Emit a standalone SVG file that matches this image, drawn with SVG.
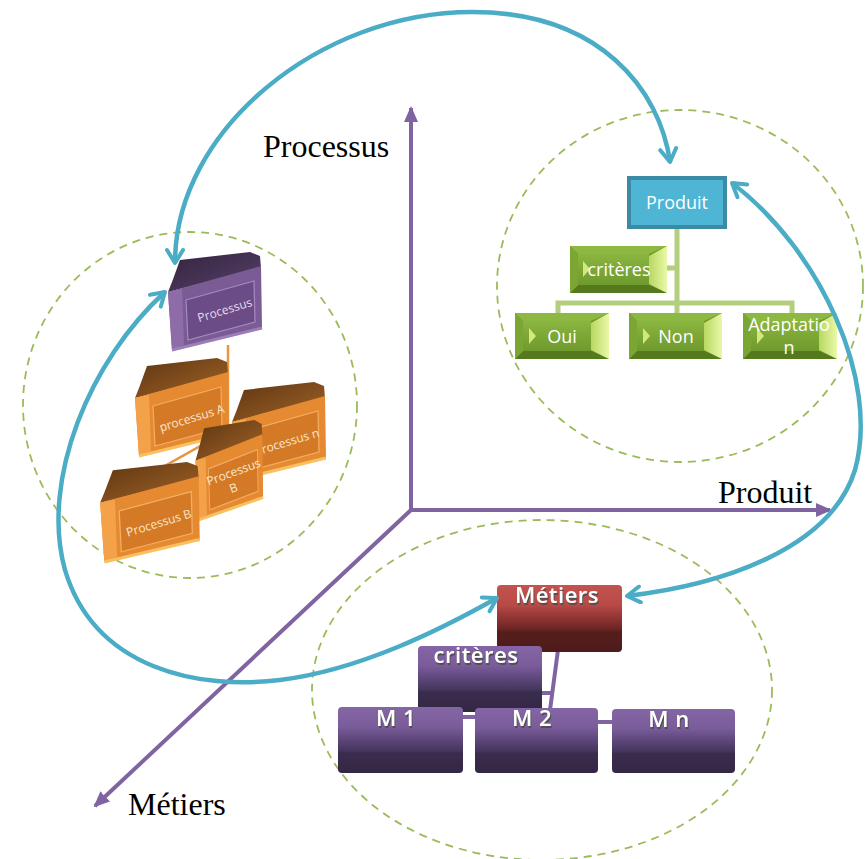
<svg xmlns="http://www.w3.org/2000/svg" width="867" height="859" viewBox="0 0 867 859">
<style>
.circ{fill:none;stroke:#9BBB59;stroke-width:1.8;stroke-dasharray:8 6}
.axis{stroke:#8064A2;stroke-width:4;fill:none;marker-end:url(#axh)}
.blue{fill:none;stroke:#4BACC6;stroke-width:4.5;marker-start:url(#chev);marker-end:url(#chev)}
.axlbl{font-family:"Liberation Serif","Times New Roman",serif;font-size:32px;fill:#000}
.gline{stroke:#B3CF7E;stroke-width:5;fill:none}
.pline{stroke:#8064A2;stroke-width:4;fill:none}
.oline{stroke:#E8953F;stroke-width:2.5;fill:none}
.gt{font-family:"Open Sans","Liberation Sans",sans-serif;font-size:18px;fill:#fff;text-anchor:middle}
.kt{font-family:"Open Sans","Liberation Sans",sans-serif;font-size:22px;font-weight:600;text-anchor:middle;letter-spacing:0.5px;fill:#fff;filter:url(#tsh)}
.bt{font-family:"Open Sans","Liberation Sans",sans-serif;font-size:12px;text-anchor:middle}
.o-top{fill:url(#oTop)}
.o-front{fill:#E68A32}
.o-lb{fill:#F4A24A}
.o-panel{fill:#D47A26;stroke:#F2AE62;stroke-width:1.2}
.o-edge{stroke:#F8C060;stroke-width:3;fill:none}
.p-top{fill:url(#pTop)}
.p-front{fill:#7B5B94}
.p-lb{fill:#8E6CA8}
.p-panel{fill:#6C4C86;stroke:#A58AC0;stroke-width:1.2}
.p-edge{stroke:#9C7EB8;stroke-width:3;fill:none}
.gb-out{fill:#6E962A}
.gb-face{fill:url(#gFace)}
.gb-top{fill:#8DB842}
.gb-bot{fill:#557A1E}
.gb-l{fill:#7CA634}
.gb-r{fill:url(#gRight)}
.gb-tri{fill:#D2EA78}
</style>
<defs>
<filter id="tsh" x="-10%" y="-20%" width="130%" height="150%">
<feDropShadow dx="1" dy="2" stdDeviation="0.4" flood-color="#505050" flood-opacity="1"/>
</filter>
<marker id="axh" viewBox="0 0 16 14" refX="14" refY="7" markerWidth="16" markerHeight="14" markerUnits="userSpaceOnUse" orient="auto">
<path d="M0,0 L16,7 L0,14 z" fill="#8064A2"/>
</marker>
<marker id="chev" viewBox="0 0 20 20" refX="17" refY="10" markerWidth="20" markerHeight="20" markerUnits="userSpaceOnUse" orient="auto-start-reverse">
<path d="M4,2 L17,10 L4,18" fill="none" stroke="#4BACC6" stroke-width="4" stroke-linecap="round" stroke-linejoin="round"/>
</marker>
<linearGradient id="oTop" x1="0" y1="0" x2="1" y2="1"><stop offset="0" stop-color="#5E3510"/><stop offset="1" stop-color="#A2642A"/></linearGradient>
<linearGradient id="pTop" x1="0" y1="0" x2="1" y2="1"><stop offset="0" stop-color="#33243E"/><stop offset="1" stop-color="#56406A"/></linearGradient>
<linearGradient id="gFace" x1="0" y1="0" x2="0" y2="1"><stop offset="0" stop-color="#8AB53F"/><stop offset="1" stop-color="#6F9A2E"/></linearGradient>
<linearGradient id="gRight" x1="0" y1="0" x2="1" y2="0"><stop offset="0" stop-color="#B8D860"/><stop offset="1" stop-color="#EAF8A8"/></linearGradient>
<linearGradient id="kPurple" x1="0" y1="0" x2="0" y2="1">
<stop offset="0" stop-color="#8466A6"/><stop offset="0.3" stop-color="#7A5C9A"/><stop offset="0.5" stop-color="#5C4679"/><stop offset="0.66" stop-color="#46365D"/><stop offset="0.7" stop-color="#3A2C4D"/><stop offset="1" stop-color="#342744"/>
</linearGradient>
<linearGradient id="kRed" x1="0" y1="0" x2="0" y2="1">
<stop offset="0" stop-color="#C4534F"/><stop offset="0.3" stop-color="#B84A46"/><stop offset="0.5" stop-color="#8E3432"/><stop offset="0.66" stop-color="#6A2524"/><stop offset="0.7" stop-color="#551E1D"/><stop offset="1" stop-color="#4E1B1A"/>
</linearGradient>
</defs>
<rect width="867" height="859" fill="#fff"/>

<g id="circles">
<ellipse class="circ" cx="190" cy="405" rx="167" ry="173"/>
<ellipse class="circ" cx="680" cy="286" rx="183" ry="176"/>
<ellipse class="circ" cx="542" cy="690" rx="230" ry="170"/>
</g>

<g id="axes">
<path class="axis" d="M411,512 L411,108"/>
<path class="axis" d="M409,510 L830,510"/>
<path class="axis" d="M411,510 L95,806"/>
<text class="axlbl" x="263" y="157">Processus</text>
<text class="axlbl" x="718" y="503">Produit</text>
<text class="axlbl" x="128" y="815">Métiers</text>
</g>

<g id="proc-lines">
<path class="oline" d="M228,345 L228,442"/>
<path class="oline" d="M163,487 L163,467 L293,394 L293,386"/>
</g>
<g id="node-processus-n">
<g transform="translate(230,382)">
<polygon class="o-top" points="6,30 14,8 84,0 94,4 95,16 2,40"/>
<polygon class="o-front" points="2,40 95,14 96,76 6,98"/>
<polygon class="o-lb" points="2,40 16,37 18,93 6,98"/>
<polygon class="o-panel" points="20,48 88,29 89,70 22,88"/>
<polyline class="o-edge" points="6,98 96,76"/>
</g>
<text class="bt" fill="#FCE6CC" transform="translate(288,446) rotate(-17)">Processus n</text>
</g>
<g id="node-processus-a">
<g transform="translate(133,358)">
<polygon class="o-top" points="6,30 14,8 84,0 94,4 95,16 2,40"/>
<polygon class="o-front" points="2,40 95,14 96,76 6,98"/>
<polygon class="o-lb" points="2,40 16,37 18,93 6,98"/>
<polygon class="o-panel" points="20,48 88,29 89,70 22,88"/>
<polyline class="o-edge" points="6,98 96,76"/>
</g>
<text class="bt" fill="#FCE6CC" transform="translate(193,422) rotate(-17)">processus A</text>
</g>
<g id="node-processus-b-mid">
<g transform="translate(194,420) scale(0.72,1.02)">
<polygon class="o-top" points="6,30 14,8 84,0 94,4 95,16 2,40"/>
<polygon class="o-front" points="2,40 95,14 96,76 6,98"/>
<polygon class="o-lb" points="2,40 16,37 18,93 6,98"/>
<polygon class="o-panel" points="20,48 88,29 89,70 22,88"/>
<polyline class="o-edge" points="6,98 96,76"/>
</g>
<text class="bt" fill="#FCE6CC" transform="translate(235,476) rotate(-20)">Processus</text>
<text class="bt" fill="#FCE6CC" transform="translate(235,492) rotate(-20)">B</text>
</g>
<g id="node-processus-b">
<g transform="translate(98,462) scale(1.06,1.02)">
<polygon class="o-top" points="6,30 14,8 84,0 94,4 95,16 2,40"/>
<polygon class="o-front" points="2,40 95,14 96,76 6,98"/>
<polygon class="o-lb" points="2,40 16,37 18,93 6,98"/>
<polygon class="o-panel" points="20,48 88,29 89,70 22,88"/>
<polyline class="o-edge" points="6,98 96,76"/>
</g>
<text class="bt" fill="#FCE6CC" transform="translate(160,527) rotate(-17)">Processus B</text>
</g>
<g id="node-processus">
<g transform="translate(166,252)">
<polygon class="p-top" points="6,30 14,8 84,0 94,4 95,16 2,40"/>
<polygon class="p-front" points="2,40 95,14 96,76 6,98"/>
<polygon class="p-lb" points="2,40 16,37 18,93 6,98"/>
<polygon class="p-panel" points="20,48 88,29 89,70 22,88"/>
<polyline class="p-edge" points="6,98 96,76"/>
</g>
<text class="bt" fill="#E8DDF0" font-size="13" transform="translate(226,314) rotate(-17)">Processus</text>
</g>

<g id="prod-lines">
<path class="gline" d="M677,229 L677,305"/>
<path class="gline" d="M667,268 L677,268"/>
<path class="gline" d="M558,314 L558,303 L792,303 L792,314"/>
<path class="gline" d="M677,303 L677,314"/>
</g>
<g id="node-produit">
<rect x="629" y="178" width="96" height="49" fill="#4FB5D5" stroke="#3A8BA3" stroke-width="4"/>
<text class="gt" x="677" y="209">Produit</text>
</g>
<g id="node-criteres-p">
<rect class="gb-out" x="570" y="246" width="97" height="47"/>
<polygon class="gb-top" points="570,246 667,246 649,254 578,254"/>
<polygon class="gb-bot" points="570,293 667,293 649,285 578,285"/>
<polygon class="gb-l" points="570,246 578,254 578,285 570,293"/>
<rect class="gb-face" x="578" y="254" width="71" height="31"/>
<polygon class="gb-r" points="667,246 649,256 649,284 667,293"/>
<polygon class="gb-tri" points="583,261 590,269 583,277"/>
<text class="gt" x="619" y="276">critères</text>
</g>
<g id="node-oui">
<rect class="gb-out" x="515" y="313" width="94" height="46"/>
<polygon class="gb-top" points="515,313 609,313 591,321 523,321"/>
<polygon class="gb-bot" points="515,359 609,359 591,351 523,351"/>
<polygon class="gb-l" points="515,313 523,321 523,351 515,359"/>
<rect class="gb-face" x="523" y="321" width="68" height="30"/>
<polygon class="gb-r" points="609,313 591,323 591,350 609,359"/>
<polygon class="gb-tri" points="529,328 536,336 529,344"/>
<text class="gt" x="562" y="343">Oui</text>
</g>
<g id="node-non">
<rect class="gb-out" x="629" y="313" width="93" height="46"/>
<polygon class="gb-top" points="629,313 722,313 704,321 637,321"/>
<polygon class="gb-bot" points="629,359 722,359 704,351 637,351"/>
<polygon class="gb-l" points="629,313 637,321 637,351 629,359"/>
<rect class="gb-face" x="637" y="321" width="67" height="30"/>
<polygon class="gb-r" points="722,313 704,323 704,350 722,359"/>
<polygon class="gb-tri" points="643,328 650,336 643,344"/>
<text class="gt" x="676" y="343">Non</text>
</g>
<g id="node-adaptation">
<rect class="gb-out" x="743" y="313" width="94" height="46"/>
<polygon class="gb-top" points="743,313 837,313 819,321 751,321"/>
<polygon class="gb-bot" points="743,359 837,359 819,351 751,351"/>
<polygon class="gb-l" points="743,313 751,321 751,351 743,359"/>
<rect class="gb-face" x="751" y="321" width="68" height="30"/>
<polygon class="gb-r" points="837,313 819,323 819,350 837,359"/>
<polygon class="gb-tri" points="757,328 764,336 757,344"/>
<text class="gt" x="789" y="331">Adaptatio</text>
<text class="gt" x="789" y="354">n</text>
</g>

<g id="met-lines">
<path class="pline" d="M558,650 L550,710"/>
<path class="pline" d="M540,693 L554,693"/>
<path class="pline" d="M461,717 L477,717"/>
<path class="pline" d="M596,722 L614,722"/>
</g>
<g id="node-metiers">
<rect x="497" y="585" width="125" height="67" rx="4" fill="url(#kRed)"/>
<text class="kt" x="557" y="603">Métiers</text>
</g>
<g id="node-criteres-m">
<rect x="418" y="646" width="124" height="66" rx="4" fill="url(#kPurple)"/>
<text class="kt" x="476" y="663">critères</text>
</g>
<g id="node-m1">
<rect x="338" y="707" width="125" height="66" rx="4" fill="url(#kPurple)"/>
<text class="kt" x="396" y="726">M 1</text>
</g>
<g id="node-m2">
<rect x="475" y="708" width="123" height="65" rx="4" fill="url(#kPurple)"/>
<text class="kt" x="532" y="726">M 2</text>
</g>
<g id="node-mn">
<rect x="612" y="709" width="123" height="64" rx="4" fill="url(#kPurple)"/>
<text class="kt" x="669" y="727">M n</text>
</g>

<g id="connectors">
<path class="blue" d="M175,263 C175,130 320,12 472,12 C600,12 660,90 670,162"/>
<path class="blue" d="M732,183 C820,250 880,380 855,470 C830,550 720,585 627,596"/>
<path class="blue" d="M165,292 C90,360 40,480 65,570 C95,670 200,690 280,680 C360,670 440,630 497,598"/>
</g>
</svg>
